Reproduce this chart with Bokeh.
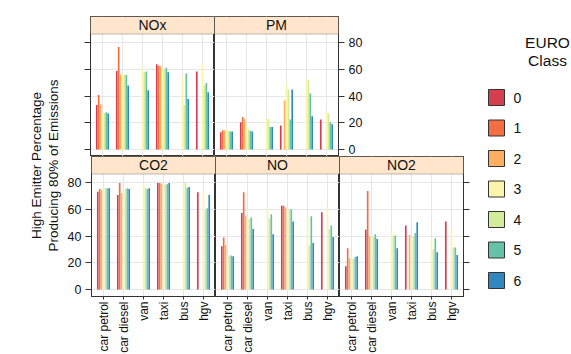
import math
from bokeh.plotting import figure
from bokeh.models import Range1d, FixedTicker, LinearAxis, BoxAnnotation, Label
from bokeh.layouts import row, column
from bokeh.embed import file_html
from bokeh.resources import INLINE

vehicles = ["car petrol", "car diesel", "van", "taxi", "bus", "hgv"]
euro_classes = ["0", "1", "2", "3", "4", "5", "6"]
euro_colors = ["#D53E4F", "#F46D43", "#FDAE61", "#FAF5AA", "#D3EC9C", "#66C2A5", "#3288BD"]
y_ticks = [0, 20, 40, 60, 80]
N = None

# rows follow `vehicles`, columns follow `euro_classes`
nox = [[33.5, 41, 34, 27, 27.5, 28, 27],
       [59, 77, 56.5, 57, 56, 56, 48],
       [N, N, N, 61.5, 58, 58.5, 44.5],
       [64, 63, 63, 60.5, 60.5, 61.5, 58],
       [N, N, N, 55, 33.5, 57, 38],
       [58.5, N, N, 64.5, 48, 50, 43]]
pm = [[13, 14.5, 14.5, 14.5, 14, 13.5, 13.5],
      [20.5, 24.5, 23, 20, 15, 14, 13.5],
      [N, N, N, 23.5, 23, 17, 17],
      [18, N, 37, 50, 45, 22.5, 45],
      [N, N, N, 53, 52, 42, 25],
      [22.5, N, N, 28, 27, 20.5, 19]]
co2 = [[73.5, 75.5, 74.5, 76, 76, 76, 76],
       [71, 80, 72.5, 74.5, 75.5, 76, 75.5],
       [N, N, N, 80, 76.5, 75.5, 76],
       [80, 80, 79.5, 79.5, 79, 79, 80],
       [N, N, N, 80, 80, 76.5, 77],
       [73, N, N, 72.5, 60, 61, 71]]
no = [[32.5, 39, 33.5, 25, 25.5, 25.5, 25],
      [57.5, 73, 55, 54.5, 53, 54, 45.5],
      [N, N, N, 59.5, 53.5, 56.5, 41.5],
      [63, 63, 61.5, 60, 60, 60, 51],
      [N, N, N, 54, 33, 55, 35],
      [58, N, N, 62, 45.5, 48, 39.5]]
no2 = [[17.5, 31, 23.5, 23.5, 23, 24.5, 25],
       [45, 74, 40, 39.5, 39.5, 41.5, 38],
       [N, N, N, 44, 40.5, 40.5, 31],
       [48, N, 41, 38, 40, 42.5, 50.5],
       [N, N, N, 38.5, 30, 38.5, 28],
       [51, N, N, 46.5, 31.5, 31.5, 26]]

FONT = "Liberation Sans"
INK = "#333333"
Y0, Y1 = -5.25, 99.9
STRIP = 86.7
STEP = (2.0 / 3.0) / 7.0
BAR_W = STEP * 0.88
PAGE_H = 354


def y_axis(labels):
    ax = LinearAxis(ticker=FixedTicker(ticks=y_ticks))
    ax.major_tick_out = 6
    ax.major_tick_in = 0
    ax.minor_tick_out = 0
    ax.minor_tick_in = 0
    ax.axis_line_color = INK
    ax.major_tick_line_color = INK
    ax.major_label_text_font = FONT
    ax.major_label_text_font_size = "12.5px"
    ax.major_label_text_color = "#111111"
    if labels:
        ax.major_label_standoff = 4
    else:
        ax.major_label_overrides = {t: "" for t in y_ticks}
        ax.major_label_standoff = 0
    return ax


def x_axis():
    ticks = list(range(1, len(vehicles) + 1))
    ax = LinearAxis(ticker=FixedTicker(ticks=ticks))
    ax.major_label_overrides = {i + 1: v for i, v in enumerate(vehicles)}
    ax.major_label_orientation = math.pi / 2
    ax.major_tick_out = 3
    ax.major_tick_in = 0
    ax.minor_tick_out = 0
    ax.minor_tick_in = 0
    ax.axis_line_color = INK
    ax.major_tick_line_color = INK
    ax.major_label_text_font = FONT
    ax.major_label_text_font_size = "12px"
    ax.major_label_text_color = "#111111"
    ax.major_label_standoff = 2
    return ax


def panel(name, data, left=None, right=None, bottom=False,
          mb_left=0, mb_right=0, mb_top=0, mb_bottom=0):
    p = figure(frame_width=124, frame_height=140,
               x_range=Range1d(0.4, 6.6), y_range=Range1d(Y0, Y1),
               x_axis_location=None, y_axis_location=None,
               output_backend="svg", toolbar_location=None,
               min_border_left=mb_left, min_border_right=mb_right,
               min_border_top=mb_top, min_border_bottom=mb_bottom,
               background_fill_color="white", border_fill_color="white")
    p.outline_line_color = INK
    p.outline_line_width = 1
    p.xgrid.ticker = FixedTicker(ticks=list(range(1, len(vehicles) + 1)))
    p.ygrid.ticker = FixedTicker(ticks=y_ticks)
    p.xgrid.grid_line_color = "#E6E6E6"
    p.ygrid.grid_line_color = "#E6E6E6"

    xs, tops, cols = [], [], []
    for i, vals in enumerate(data):
        for k, v in enumerate(vals):
            if v is None:
                continue
            xs.append(i + 1 + (k - 3) * STEP)
            tops.append(v)
            cols.append(euro_colors[k])
    p.vbar(x=xs, top=tops, bottom=0, width=BAR_W, fill_color=cols, line_color=None)

    p.add_layout(BoxAnnotation(bottom=STRIP, fill_color="#FFE5CC", fill_alpha=1.0,
                               line_color=INK, line_width=1))
    p.add_layout(Label(x=3.5, y=(STRIP + Y1) / 2, text=name, text_align="center",
                       text_baseline="middle", text_font=FONT, text_font_size="14px",
                       text_color="#111111"))
    if left is not None:
        p.add_layout(y_axis(left), "left")
    if right is not None:
        p.add_layout(y_axis(right), "right")
    if bottom:
        p.add_layout(x_axis(), "below")
    return p


p_nox = panel("NOx", nox, left=False, mb_left=26, mb_top=16)
p_pm = panel("PM", pm, right=True, mb_right=30, mb_top=16)
p_co2 = panel("CO2", co2, left=True, bottom=True, mb_left=26, mb_bottom=58)
p_no = panel("NO", no, bottom=True, mb_bottom=58)
p_no2 = panel("NO2", no2, right=False, bottom=True, mb_right=12, mb_bottom=58)

# y-axis title
LAB_W = 64
lab = figure(width=LAB_W, height=PAGE_H, x_range=Range1d(0, LAB_W), y_range=Range1d(0, PAGE_H),
             x_axis_location=None, y_axis_location=None, min_border=0,
             output_backend="svg", toolbar_location=None, outline_line_color=None)
lab.grid.visible = False
lab.add_layout(Label(x=36, y=PAGE_H - 165, text="High Emitter Percentage", angle=math.pi / 2,
                     text_align="center", text_baseline="middle", text_font=FONT,
                     text_font_size="13.5px", text_color="#111111"))
lab.add_layout(Label(x=53, y=PAGE_H - 165, text="Producing 80% of Emissions", angle=math.pi / 2,
                     text_align="center", text_baseline="middle", text_font=FONT,
                     text_font_size="13.5px", text_color="#111111"))

# legend (figure starts at x = 64 + 150 + 124 + 136 = 474)
LEG_W = 97
leg = figure(width=LEG_W, height=PAGE_H, x_range=Range1d(0, LEG_W), y_range=Range1d(0, PAGE_H),
             x_axis_location=None, y_axis_location=None, min_border=0,
             output_backend="svg", toolbar_location=None, outline_line_color=None)
leg.grid.visible = False
ly = [PAGE_H - (97 + 30.5 * k) for k in range(len(euro_classes))]
leg.rect(x=[21] * len(euro_classes), y=ly, width=16, height=16,
         fill_color=euro_colors, line_color=INK, line_width=1)
for k, c in enumerate(euro_classes):
    leg.add_layout(Label(x=38, y=ly[k], text=c, text_align="left", text_baseline="middle",
                         text_font=FONT, text_font_size="14px", text_color="#111111"))
leg.add_layout(Label(x=72, y=PAGE_H - 42, text="EURO", text_align="center", text_baseline="middle",
                     text_font=FONT, text_font_size="15.5px", text_color="#111111"))
leg.add_layout(Label(x=72, y=PAGE_H - 60, text="Class", text_align="center", text_baseline="middle",
                     text_font=FONT, text_font_size="15.5px", text_color="#111111"))

layout = row(lab, column(row(p_nox, p_pm), row(p_co2, p_no, p_no2)), leg)

open("out.html", "w").write(file_html(layout, INLINE))
